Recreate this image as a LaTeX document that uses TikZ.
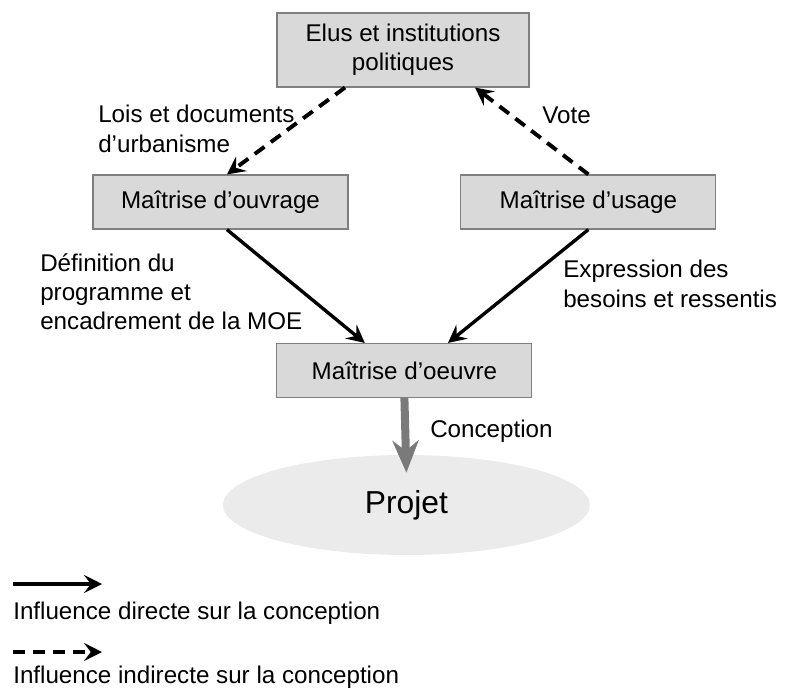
\documentclass[tikz,border=0pt]{standalone}
\usepackage{fontspec}
\setmainfont{Liberation Sans}
\usetikzlibrary{arrows.meta,shapes.geometric}

\definecolor{boxfill}{HTML}{D9D9D9}
\definecolor{boxline}{HTML}{7F7F7F}
\definecolor{projetfill}{HTML}{EBEBEB}
\definecolor{arrowgray}{HTML}{7A7A7A}

\begin{document}
\begin{tikzpicture}[
    font=\fontsize{17.2}{20.8}\selectfont,
    acteur/.style={draw=boxline, fill=boxfill, line width=0.8pt, minimum width=6.375cm, minimum height=1.35cm, align=center},
    txt/.style={anchor=north west, inner sep=0pt, align=left},
    direct/.style={line width=2.4pt, -{Stealth[length=0.45cm, width=0.45cm, inset=0.17cm]}},
    indirect/.style={direct, line width=2.8pt, dash pattern=on 0.3cm off 0.2cm}
]
    \useasboundingbox (0,0) rectangle (19.65,-17.225);

    % Top box
    \node[acteur, minimum width=6.3cm, minimum height=1.85cm] (elus) at (10.075,-1.25) {Elus et institutions\\politiques};

    % Middle boxes
    \node[acteur] (ouvrage) at (5.5125,-5.05) {Maîtrise d’ouvrage};
    \node[acteur] (usage) at (14.71,-5.05) {Maîtrise d’usage};
    \node[acteur] (oeuvre) at (10.11,-9.2625) {Maîtrise d’oeuvre};

    % Project
    \node[ellipse, fill=projetfill, minimum width=9.175cm, minimum height=2.5cm, font=\fontsize{22.6}{27}\selectfont] (projet) at (10.16,-12.625) {Projet};

    % Labels
    \node[txt] (lois) at (2.45,-2.625) {Lois et documents\\d’urbanisme};
    \node[txt] (vote) at (13.55,-2.675) {Vote};
    \node[txt] (definition) at (1.0,-6.33) {Définition du\\programme et\\encadrement de la MOE};
    \node[txt] (expression) at (14.075,-6.5) {Expression des\\besoins et ressentis};
    \node[txt] (conception) at (10.75,-10.5) {Conception};

    % Indirect influence
    \draw[indirect] ([xshift=-1.45cm]elus.south) -- ([xshift=0.16cm]ouvrage.north);
    \draw[indirect] (usage.north) -- ([xshift=1.8cm]elus.south);

    % Direct influence
    \draw[direct] ([xshift=0.16cm]ouvrage.south) -- ([xshift=-0.99cm]oeuvre.north);
    \draw[direct] (usage.south) -- ([xshift=1.09cm]oeuvre.north);

    % Conception arrow
    \draw[arrowgray, line width=0.2cm, -{Stealth[length=0.8cm, width=0.65cm, inset=0.25cm]}] (oeuvre.south) -- ([yshift=-0.45cm]projet.north);

    % Legend
    \coordinate (l1a) at (0.325,-14.6);
    \coordinate (l1b) at (2.55,-14.6);
    \coordinate (l2a) at (0.325,-16.3);
    \coordinate (l2b) at (2.55,-16.3);
    \draw[direct] (l1a) -- (l1b);
    \node[txt] (legdirect) at (0.325,-15.05) {Influence directe sur la conception};
    \draw[indirect] (l2a) -- (l2b);
    \node[txt] (legindirect) at (0.325,-16.65) {Influence indirecte sur la conception};

\end{tikzpicture}
\end{document}
